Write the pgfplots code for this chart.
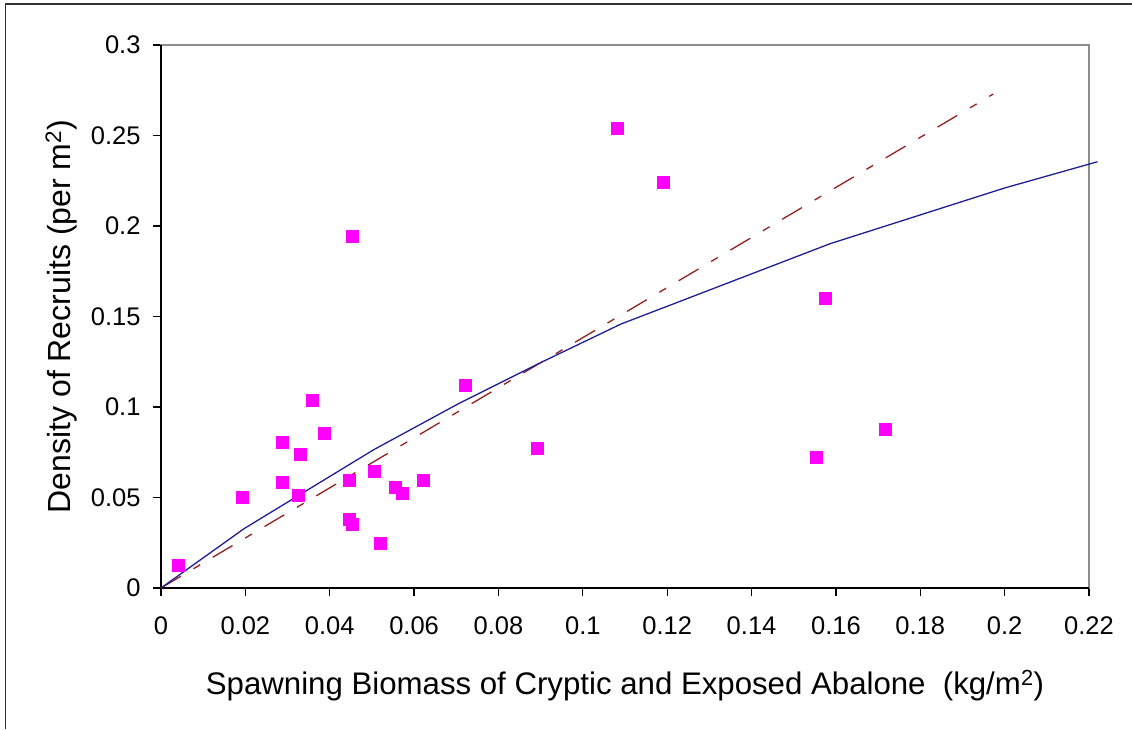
\documentclass[border=0pt]{standalone}
\usepackage{fontspec}
\setmainfont{Liberation Sans}
\usepackage{pgfplots}
\pgfplotsset{compat=1.18}
\definecolor{ptmag}{RGB}{255,0,255}
\definecolor{fitblue}{RGB}{30,30,150}
\definecolor{fitred}{RGB}{150,30,30}
\begin{document}
\begin{tikzpicture}
\useasboundingbox (0,0) rectangle (1132pt,729pt);
\draw[line width=1.5pt, black!80] (5.5pt,0pt) -- (5.5pt,725pt) -- (1132pt,725pt);
\begin{axis}[
  at={(161pt,141pt)}, anchor=south west,
  scale only axis, width=928pt, height=543pt,
  xmin=0, xmax=0.22, ymin=0, ymax=0.3,
  clip=false,
  xtick={0,0.02,0.04,0.06,0.08,0.1,0.12,0.14,0.16,0.18,0.2,0.22},
  xticklabels={0,0.02,0.04,0.06,0.08,0.1,0.12,0.14,0.16,0.18,0.2,0.22},
  ytick={0,0.05,0.1,0.15,0.2,0.25,0.3},
  yticklabels={0,0.05,0.1,0.15,0.2,0.25,0.3},
  scaled ticks=false,
  tick align=outside, tick pos=left,
  major tick length=8pt,
  tick style={black, line width=1.2pt},
  axis line style={gray!90, line width=2pt},
  ticklabel style={font=\fontsize{25.5}{30}\selectfont},
  xticklabel style={yshift=-17pt},
  yticklabel style={xshift=-9pt},
  xlabel={Spawning Biomass of Cryptic and Exposed Abalone\ \ (kg/m\textsuperscript{2})},
  ylabel={Density of Recruits (per m\textsuperscript{2})},
  xlabel style={font=\fontsize{31.2}{36}\selectfont, at={(axis description cs:0.5,-0.197)}, anchor=base},
  ylabel style={font=\fontsize{32}{38}\selectfont, at={(axis description cs:-0.098,0.5)}, anchor=base},
]
\draw[black, line width=1.4pt] (rel axis cs:0,1) -- (rel axis cs:0,0) -- (rel axis cs:1,0);
\addplot[fitred, line width=1.3pt, dash pattern=on 23pt off 14.7pt on 7.8pt off 14.7pt] coordinates {(0,0) (0.1973,0.2729)};
\addplot[fitblue, line width=1.3pt] coordinates {
(0,0) (0.0197,0.0328) (0.0505,0.0765) (0.0705,0.1018) (0.09,0.1245) (0.109,0.1458) (0.1586,0.1902) (0.2,0.2210) (0.222,0.2355)};
\addplot[only marks, mark=square*, mark size=6pt, mark options={ptmag, draw=ptmag}] coordinates {
(0.0041,0.0125) (0.0193,0.0501) (0.0287,0.0807) (0.0287,0.0587) (0.0330,0.0740)
(0.0325,0.0512) (0.0358,0.1039) (0.0386,0.0853) (0.0447,0.0598) (0.0447,0.0379)
(0.0453,0.0355) (0.0505,0.0643) (0.0519,0.0247) (0.0556,0.0556) (0.0571,0.0523)
(0.0622,0.0598) (0.0722,0.1118) (0.0453,0.1945) (0.0892,0.0775) (0.1082,0.2538)
(0.1191,0.2241) (0.1575,0.1602) (0.1717,0.0875) (0.1554,0.0720)};
\end{axis}
\end{tikzpicture}
\end{document}
